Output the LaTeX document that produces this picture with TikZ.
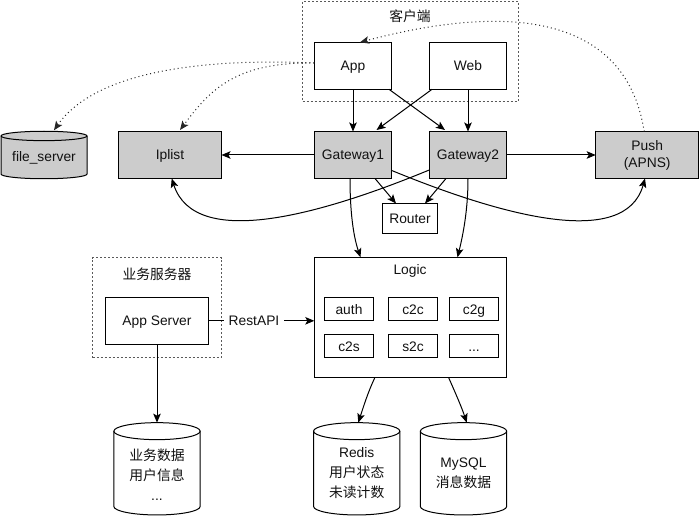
\documentclass[tikz,border=0pt]{standalone}
\usepackage{fontspec}
\setmainfont{Liberation Sans}
\newfontfamily\cjk{Noto Sans CJK SC}
\usetikzlibrary{arrows.meta}
\definecolor{boxgray}{HTML}{CCCCCC}
\definecolor{inkc}{HTML}{111111}
\tikzset{
  base/.style={draw=black,line width=1pt,align=center,text=inkc,font=\fontsize{13.8}{20}\selectfont,inner sep=0pt,outer sep=0pt,anchor=center},
  oneline/.style={text height=12pt,text depth=2pt},
  bigbox/.style={base,oneline,minimum width=77.5pt,minimum height=47pt},
  widebox/.style={base,oneline,minimum width=103pt,minimum height=47pt},
  graybox/.style={fill=boxgray},
  smallbox/.style={base,oneline,minimum width=49.4pt,minimum height=23.4pt},
  region/.style={draw=black!65,line width=.8pt,dash pattern=on 2pt off 2pt,inner sep=0pt,outer sep=0pt},
  plain/.style={font=\fontsize{13.8}{20}\selectfont,text=inkc,align=center,inner sep=0pt},
  dbframe/.style={inner sep=0pt,outer sep=0pt,minimum width=86.3pt,minimum height=92.3pt},
  dbline/.style={line width=1pt,draw=black,fill=white},
  conn/.style={line width=1pt,black,-{Stealth[length=9pt,width=7.5pt,inset=2pt]}},
  dots/.style={line width=1pt,black!85,dash pattern=on 1pt off 3pt,-{Stealth[length=9pt,width=7.5pt,inset=2pt]}},
}
% #1 node name, #2 half width, #3 ellipse height radius, #4 fill
\newcommand{\dbbody}[4]{%
  \draw[dbline,fill=#4] ([yshift=-#3]#1.north west)
     arc[start angle=180,end angle=0,x radius=#2,y radius=#3]
     -- ([yshift=#3]#1.south east)
     arc[start angle=0,end angle=-180,x radius=#2,y radius=#3] -- cycle;
  \draw[dbline,fill=none] ([yshift=-#3]#1.north west)
     arc[start angle=180,end angle=360,x radius=#2,y radius=#3];
}
\begin{document}
\begin{tikzpicture}[x=1pt,y=-1pt]
\useasboundingbox (0,0) rectangle (699,516);
% regions
\node[region,minimum width=215.6pt,minimum height=100pt] (client) at (410.5,51) {};
\node[region,minimum width=128.6pt,minimum height=100pt] (biz) at (157,307.5) {};
\node[plain] (clientlabel) at (410,16) {\cjk 客户端};
\node[plain] (bizlabel) at (157,274) {\cjk 业务服务器};
% boxes
\node[bigbox] (app) at (353,65.8) {App};
\node[bigbox] (web) at (468,65.8) {Web};
\node[bigbox,graybox] (gw1) at (353,155) {Gateway1};
\node[bigbox,graybox] (gw2) at (468,155) {Gateway2};
\node[widebox,graybox] (iplist) at (170,155) {Iplist};
\node[base,graybox,minimum width=103pt,minimum height=47pt,font=\fontsize{13.8}{17}\selectfont] (push) at (647.2,155) {Push\\(APNS)};
\node[base,oneline,minimum width=55.4pt,minimum height=30pt] (router) at (410,218.5) {Router};
\node[widebox] (appsrv) at (157,320.8) {App Server};
\node[base,minimum width=192.4pt,minimum height=120pt] (logic) at (410.5,317.3) {};
\node[plain] (logiclabel) at (410,271) {Logic};
\node[smallbox] (auth) at (349,309) {auth};
\node[smallbox] (c2c) at (413,309) {c2c};
\node[smallbox] (c2g) at (474,309) {c2g};
\node[smallbox] (c2s) at (349,346) {c2s};
\node[smallbox] (s2c) at (413,346) {s2c};
\node[smallbox] (more) at (474,346) {...};
% cylinders
\node[dbframe,minimum width=86pt,minimum height=47.5pt] (fileserver) at (44,155) {};
\dbbody{fileserver}{43pt}{4.7pt}{boxgray}
\node[plain] (filelabel) at (44,158) {file\_server};
\node[dbframe] (bizdb) at (157,468.8) {};
\dbbody{bizdb}{43.15pt}{8.5pt}{white}
\node[plain] (bizdblabel) at (157,475) {\cjk 业务数据\\\cjk 用户信息\\...};
\node[dbframe] (redis) at (356.7,468.8) {};
\dbbody{redis}{43.15pt}{8.5pt}{white}
\node[plain] (redislabel) at (356.7,473) {Redis\\\cjk 用户状态\\\cjk 未读计数};
\node[dbframe] (mysql) at (463.5,468.8) {};
\dbbody{mysql}{43.15pt}{8.5pt}{white}
\node[plain] (mysqllabel) at (463.5,473) {MySQL\\\cjk 消息数据};
% straight connectors
\draw[conn] (app.south) -- (gw1.north);
\draw[conn] (web.south) -- (gw2.north);
\draw[conn] ([xshift=-36pt]web.south) -- ([xshift=23.5pt,yshift=1.5pt]gw1.north);
\draw[conn] ([xshift=36pt]app.south) -- ([xshift=-23pt,yshift=1.5pt]gw2.north);
\draw[conn] (gw1.west) -- (iplist.east);
\draw[conn] (gw2.east) -- (push.west);
\draw[conn] ([xshift=22pt]gw1.south) -- ([xshift=-14pt]router.north);
\draw[conn] ([xshift=-22pt]gw2.south) -- ([xshift=15pt]router.north);
\draw[conn] (appsrv.south) -- (appsrv.south |- bizdb.north);
\draw[conn] (appsrv.east) -- node[pos=.43,fill=white,plain,inner xsep=5pt,inner ysep=2pt] (rest) {RestAPI} (logic.west |- appsrv.east);
% curved connectors
\draw[conn] ([xshift=-3pt]gw1.south) .. controls (350,210) and (353,235) .. ([xshift=-50pt]logic.north);
\draw[conn] (gw2.south) .. controls (468,210) and (463,235) .. ([xshift=47pt]logic.north);
\draw[conn] ([yshift=-15pt]gw2.west) .. controls (320,215) and (195,250) .. ([xshift=1.7pt]iplist.south);
\draw[conn] ([yshift=-15.5pt]gw1.east) .. controls (500,215) and (625,250) .. ([xshift=-2.2pt]push.south);
\draw[conn] ([xshift=-35.5pt]logic.south) .. controls (368,392) and (363,408) .. ([xshift=1.6pt]redis.north);
\draw[conn] ([xshift=38pt]logic.south) .. controls (455,392) and (462,408) .. ([xshift=3.2pt]mysql.north);
% dotted connectors
\draw[dots] ([yshift=2.8pt]app.west) .. controls (200,58) and (95,72) .. ([xshift=10pt,yshift=1pt]fileserver.north);
\draw[dots] ([yshift=2.8pt]app.west) .. controls (235,62) and (210,90) .. ([xshift=10pt,yshift=1.5pt]iplist.north);
\draw[dots] ([xshift=-3pt]push.north) .. controls (625,10) and (500,5) .. ([xshift=7pt]app.north);
\end{tikzpicture}
\end{document}
